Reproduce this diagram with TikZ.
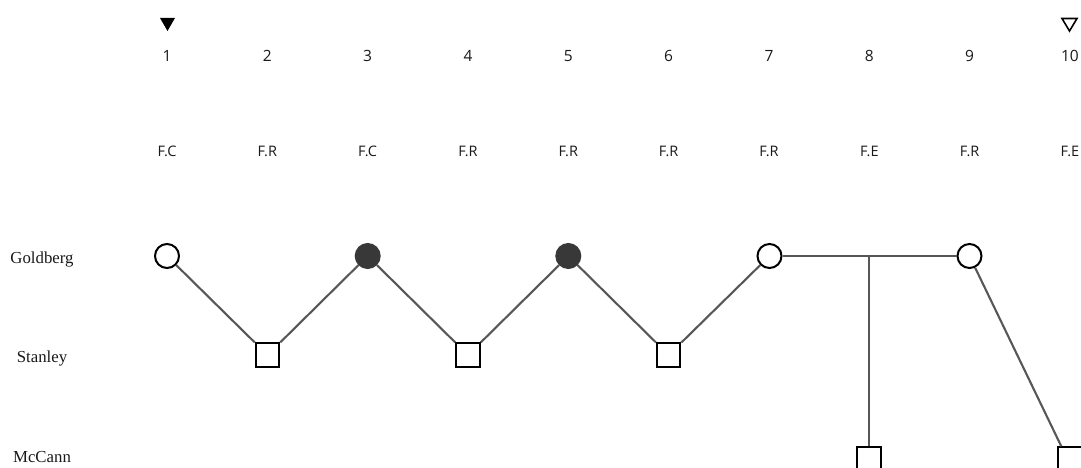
\documentclass[tikz,border=0pt]{standalone}
\usepackage{fontspec}
\setmainfont{Liberation Serif}
\newfontfamily\labelsans{Open Sans}
\begin{document}
\begin{tikzpicture}[x=1pt,y=-1pt,
  link/.style={draw=black!66, line width=2.1pt},
  openturn/.style={circle, draw=black, line width=2pt, fill=white, minimum size=24pt, inner sep=0pt},
  fullturn/.style={circle, draw=black!78, line width=1pt, fill=black!78, minimum size=25pt, inner sep=0pt},
  reply/.style={rectangle, draw=black, line width=2pt, fill=white, minimum size=23.5pt, inner sep=0pt},
  colnum/.style={font=\labelsans\fontsize{15.5}{17}\selectfont, anchor=base, text=black!90},
  coltag/.style={font=\labelsans\fontsize{14.5}{16}\selectfont, anchor=base, text=black!90},
  speaker/.style={font=\fontsize{16.8}{19}\selectfont, anchor=base, text=black!90}]
\useasboundingbox (0,0) rectangle (1081,468);

% column numbers and move tags
\foreach \i/\t in {1/F.C,2/F.R,3/F.C,4/F.R,5/F.R,6/F.R,7/F.R,8/F.E,9/F.R,10/F.E} {
  \node[colnum] (n\i) at ({167+100.33*(\i-1)},62) {\i};
  \node[coltag] (t\i) at ({167+100.33*(\i-1)},156) {\t};
}

% start and end markers
\fill[black] (160,18) -- (175,18) -- (167.5,31) -- cycle;
\draw[black, line width=1.6pt, line join=miter] (1062,18.5) -- (1077,18.5) -- (1069.5,31) -- cycle;

% speakers
\node[speaker] (goldberg) at (42,263) {Goldberg};
\node[speaker] (stanley) at (42,362) {Stanley};
\node[speaker] (mccann) at (42,462) {McCann};

% turns
\node[openturn] (c1) at (167,256) {};
\node[reply]    (s2) at (267.5,355) {};
\node[fullturn] (c3) at (367.7,256) {};
\node[reply]    (s4) at (468,355) {};
\node[fullturn] (c5) at (568.3,256) {};
\node[reply]    (s6) at (668.7,355) {};
\node[openturn] (c7) at (769.5,256) {};
\node[reply]    (s8) at (869,459) {};
\node[openturn] (c9) at (969.5,256) {};
\node[reply]    (s10) at (1070,459) {};
\coordinate (j8) at (869,256);

% connectors
\draw[link] (c1) -- (s2);
\draw[link] (s2) -- (c3);
\draw[link] (c3) -- (s4);
\draw[link] (s4) -- (c5);
\draw[link] (c5) -- (s6);
\draw[link] (s6) -- (c7);
\draw[link] (c7) -- (c9);
\draw[link] (j8) -- (s8.north);
\draw[link] (c9) -- ([xshift=4pt]s10.north west);
\end{tikzpicture}
\end{document}
